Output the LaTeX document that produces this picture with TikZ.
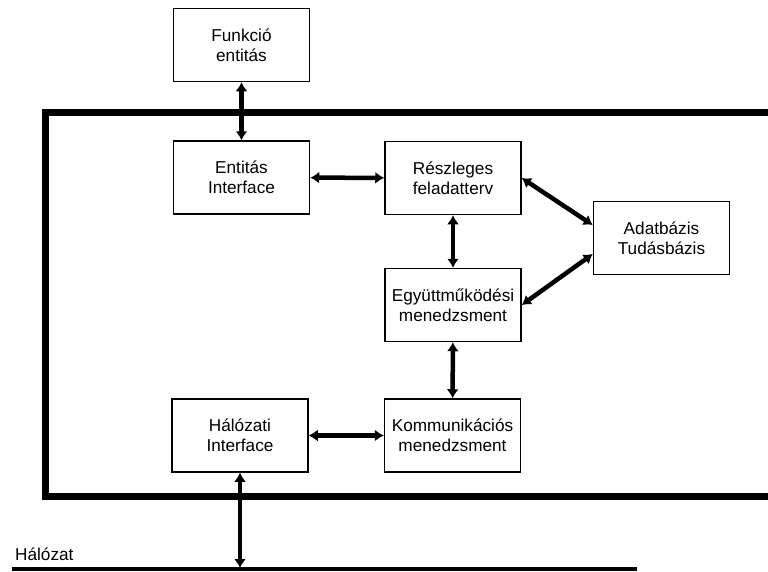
\documentclass[tikz,border=0pt]{standalone}
\usepackage{fontspec}
\setmainfont{Liberation Sans}
\usetikzlibrary{arrows.meta,calc}
\begin{document}
\begin{tikzpicture}[x=1pt,y=-1pt,
  blk/.style={draw, line width=1.5pt, minimum width=136pt, minimum height=73pt,
    align=center, inner sep=0pt, font=\fontsize{17.2}{20}\selectfont},
  link/.style={line width=4.5pt,
    {Latex[length=9pt,width=12pt]}-{Latex[length=9pt,width=12pt]}},
  frame/.style={line width=7pt, line join=miter},
  bus/.style={line width=4pt},
  lbl/.style={font=\fontsize{17.2}{20}\selectfont, inner sep=0pt, anchor=base west}]
\useasboundingbox (0,0) rectangle (768,571);

% agent boundary
\coordinate (fTR) at (770,112);
\coordinate (fTL) at (45,112);
\coordinate (fBL) at (45,496);
\coordinate (fBR) at (770,496);
\draw[frame] (fTR) -- (fTL) -- (fBL) -- (fBR);

% network bus
\coordinate (netL) at (12,569);
\coordinate (netR) at (637,569);
\draw[bus] (netL) -- (netR);
\node[lbl] (netlabel) at (15,560) {Hálózat};

% blocks
\node[blk] (func) at (241.5,45)  {Funkció\\entitás};
\node[blk] (ent)  at (241.5,177.5) {Entitás\\Interface};
\node[blk] (resz) at (453,178)   {Részleges\\feladatterv};
\node[blk] (adat) at (661.5,238) {Adatbázis\\Tudásbázis};
\node[blk] (egy)  at (453,305)   {Együttműködési\\menedzsment};
\node[blk] (hal)  at (240,435.5) {Hálózati\\Interface};
\node[blk] (komm) at (452.5,435.5) {Kommunikációs\\menedzsment};

% connections
\draw[link] (func) -- (ent);
\draw[link] (ent) -- (resz);
\draw[link] (resz) -- (egy);
\draw[link] (egy) -- (komm);
\draw[link] (hal) -- (komm);
\draw[link] (resz.east) -- ([yshift=13pt]adat.west);
\draw[link] (egy.east) -- ([yshift=-16pt]adat.west);
\coordinate (halbus) at (hal.south |- netL);
\draw[link] (hal.south) -- ([yshift=1pt]halbus);
\end{tikzpicture}
\end{document}
